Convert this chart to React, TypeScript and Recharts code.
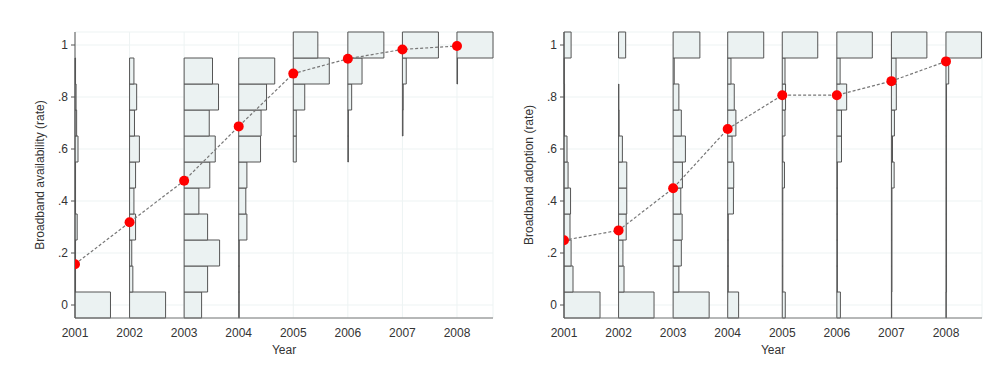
import React from 'react';
import { ComposedChart, Line, XAxis, YAxis, CartesianGrid, ReferenceArea } from 'recharts';

// survey years and histogram bin centres (bins are 0.1 wide)
const YEARS = [2001, 2002, 2003, 2004, 2005, 2006, 2007, 2008];
const BINS = [0, 0.1, 0.2, 0.3, 0.4, 0.5, 0.6, 0.7, 0.8, 0.9, 1];
const Y_TICKS = [0, 0.2, 0.4, 0.6, 0.8, 1];

// yearly means (red dots)
const availMean = [0.157, 0.318, 0.478, 0.687, 0.89, 0.947, 0.983, 0.996];
const adoptMean = [0.249, 0.287, 0.449, 0.677, 0.807, 0.807, 0.861, 0.937];

// histogram bar length per bin, in year units, one row per year
const availHist = [
  [0.65, 0.01, 0.01, 0.04, 0.01, 0.01, 0.055, 0.03, 0.02, 0.01, 0],
  [0.66, 0.06, 0.04, 0.11, 0.08, 0.11, 0.18, 0.09, 0.13, 0.08, 0],
  [0.32, 0.43, 0.65, 0.43, 0.27, 0.47, 0.57, 0.46, 0.63, 0.52, 0],
  [0.01, 0.01, 0.01, 0.15, 0.13, 0.15, 0.4, 0.41, 0.51, 0.66, 0],
  [0, 0, 0, 0, 0, 0, 0.055, 0.055, 0.21, 0.66, 0.45],
  [0, 0, 0, 0, 0, 0, 0.01, 0.01, 0.07, 0.26, 0.66],
  [0, 0, 0, 0, 0, 0, 0, 0.01, 0.015, 0.07, 0.66],
  [0, 0, 0, 0, 0, 0, 0, 0, 0, 0.01, 0.66],
];

const adoptHist = [
  [0.66, 0.165, 0.13, 0.11, 0.12, 0.075, 0.055, 0.01, 0.01, 0.005, 0.13],
  [0.65, 0.1, 0.08, 0.14, 0.15, 0.15, 0.07, 0.01, 0.005, 0, 0.13],
  [0.66, 0.105, 0.15, 0.165, 0.14, 0.17, 0.225, 0.15, 0.105, 0.02, 0.49],
  [0.2, 0.01, 0.01, 0.01, 0.105, 0.11, 0.08, 0.15, 0.12, 0.06, 0.66],
  [0.055, 0.01, 0.01, 0.01, 0.01, 0.04, 0.01, 0.05, 0.06, 0.05, 0.65],
  [0.065, 0.01, 0.01, 0.01, 0.01, 0.01, 0.085, 0.085, 0.18, 0.06, 0.65],
  [0.005, 0.01, 0.01, 0.01, 0.01, 0.05, 0.02, 0.055, 0.09, 0.085, 0.65],
  [0.005, 0.01, 0.01, 0.01, 0.01, 0.01, 0.01, 0.01, 0.01, 0.05, 0.65],
];

const fmtRate = (v: number) => (v === 0 ? '0' : v === 1 ? '1' : String(v).replace(/^0/, ''));

interface PanelProps {
  label: string;
  means: number[];
  hist: number[][];
  margin: { top: number; right: number; bottom: number; left: number };
}

function Panel({ label, means, hist, margin }: PanelProps) {
  const data = YEARS.map((year, i) => ({ year, mean: means[i] }));
  return (
    <ComposedChart width={502} height={370} data={data} margin={margin}>
      <CartesianGrid stroke="#edf3f3" strokeWidth={1} />
      <XAxis
        type="number"
        dataKey="year"
        domain={[2001, 2008.66]}
        ticks={YEARS}
        allowDataOverflow
        height={40}
        tickLine={false}
        tickMargin={4}
        axisLine={{ stroke: '#777' }}
        tick={{ fill: '#333', fontSize: 12 }}
        label={{ value: 'Year', position: 'insideBottom', offset: 4, fill: '#333', fontSize: 12 }}
      />
      <YAxis
        type="number"
        domain={[-0.05, 1.05]}
        ticks={Y_TICKS}
        allowDataOverflow
        width={40}
        tickSize={4}
        tickMargin={3}
        tickFormatter={fmtRate}
        axisLine={{ stroke: '#555' }}
        tickLine={{ stroke: '#555' }}
        tick={{ fill: '#333', fontSize: 12 }}
        label={{
          value: label,
          angle: -90,
          position: 'insideLeft',
          offset: 5,
          fill: '#333',
          fontSize: 12,
          style: { textAnchor: 'middle' },
        }}
      />
      {hist.flatMap((row, yi) =>
        row.map((w, bi) =>
          w > 0 ? (
            <ReferenceArea
              key={`${yi}-${bi}`}
              x1={YEARS[yi]}
              x2={YEARS[yi] + w}
              y1={BINS[bi] - 0.05}
              y2={BINS[bi] + 0.05}
              fill="#ebf2f2"
              fillOpacity={1}
              stroke="#555"
              strokeWidth={1}
              ifOverflow="visible"
            />
          ) : null
        )
      )}
      <Line
        type="linear"
        dataKey="mean"
        stroke="#777"
        strokeWidth={1.2}
        strokeDasharray="3 2"
        dot={{ r: 5, fill: '#ff0000', stroke: '#ff0000', strokeWidth: 0 }}
        activeDot={false}
        isAnimationActive={false}
      />
    </ComposedChart>
  );
}

export default function App() {
  return (
    <div
      style={{
        position: 'absolute',
        left: 0,
        top: 0,
        width: 1004,
        height: 370,
        display: 'flex',
        background: '#fff',
        fontFamily: '"Liberation Sans", Arial, sans-serif',
      }}
    >
      <Panel
        label="Broadband availability (rate)"
        means={availMean}
        hist={availHist}
        margin={{ top: 32, right: 9, bottom: 12, left: 35 }}
      />
      <Panel
        label="Broadband adoption (rate)"
        means={adoptMean}
        hist={adoptHist}
        margin={{ top: 32, right: 22, bottom: 12, left: 22 }}
      />
    </div>
  );
}
